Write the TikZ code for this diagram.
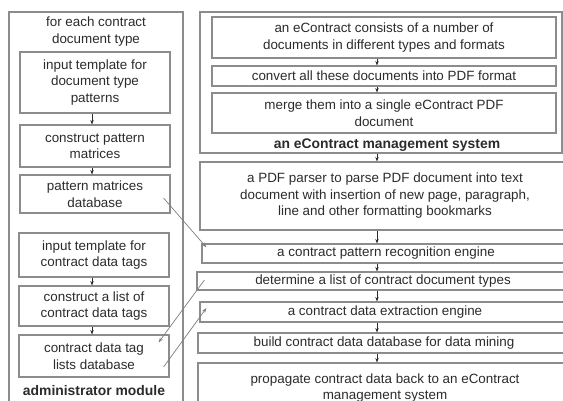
\documentclass[tikz,border=0pt]{standalone}
\usepackage{fontspec}
\setmainfont{Liberation Sans}
\usetikzlibrary{arrows.meta,calc}
\definecolor{txt}{HTML}{2B2B2B}
\definecolor{edge}{HTML}{8C8C8C}
\begin{document}
\begin{tikzpicture}[x=1pt,y=-1pt,
  box/.style={draw=edge,line width=1.1pt,inner sep=0pt,text=txt,align=center,
    font=\fontsize{13.4}{16.5}\selectfont},
  lbl/.style={text=txt,align=center,font=\fontsize{13.4}{17}\selectfont},
  blbl/.style={text=txt,align=center,font=\fontsize{13.9}{17}\selectfont\bfseries},
  arr/.style={draw=txt,line width=0.6pt,-{Stealth[length=4.5pt,width=3.4pt]}},
  darr/.style={draw=edge!90!black,line width=0.7pt,-{Stealth[length=5pt,width=3.4pt]}}]
\useasboundingbox (0,0) rectangle (563,401);
\clip (0,0) rectangle (563,401);
% left column
\node[box,minimum width=174,minimum height=390] (adm) at (96,207) {};
\node[lbl] (t1) at (96,32) {for each contract\\document type};
\node[box,minimum width=150,minimum height=61] (L1) at (95,82.5) {input template for\\document type\\patterns};
\node[box,minimum width=150,minimum height=42] (L2) at (95,146) {construct pattern\\matrices};
\node[box,minimum width=150,minimum height=38] (L3) at (95,194) {pattern matrices\\database};
\node[box,minimum width=150,minimum height=44] (L4) at (94,255) {input template for\\contract data tags};
\node[box,minimum width=150,minimum height=40] (L5) at (94,306) {construct a list of\\contract data tags};
\node[box,minimum width=150,minimum height=42] (L6) at (94,356) {contract data tag\\lists database};
\node[blbl] (t2) at (94,391) {administrator module};
% right column
\node[box,minimum width=362,minimum height=141] (sys) at (381,82.5) {};
\node[box,minimum width=344,minimum height=41] (R1) at (384,37.5) {an eContract consists of a number of\\documents in different types and formats};
\node[box,minimum width=344,minimum height=20] (R2) at (384,76) {convert all these documents into PDF format};
\node[box,minimum width=344,minimum height=40] (R3) at (384,113) {merge them into a single eContract PDF\\document};
\node[blbl] (t3) at (387,145) {an eContract management system};
\node[box,minimum width=370,minimum height=68] (R4) at (385,196) {a PDF parser to parse PDF document into text\\document with insertion of new page, paragraph,\\line and other formatting bookmarks};
\node[box,minimum width=368,minimum height=19] (R5) at (386,253.5) {a contract pattern recognition engine};
\node[box,minimum width=372,minimum height=18] (R6) at (383,281) {determine a list of contract document types};
\node[box,minimum width=370,minimum height=20] (R7) at (385,312) {a contract data extraction engine};
\node[box,minimum width=372,minimum height=20] (R8) at (384,343) {build contract data database for data mining};
\node[box,minimum width=374,minimum height=50] (R9) at (385,388) {propagate contract data back to an eContract\\management system};
% vertical arrows
\coordinate (lx) at (92,0);
\coordinate (rx) at (377,0);
\draw[arr] (L1.south -| lx) -- (L2.north -| lx);
\draw[arr] (L2.south -| lx) -- (L3.north -| lx);
\draw[arr] (L4.south -| lx) -- (L5.north -| lx);
\draw[arr] (L5.south -| lx) -- (L6.north -| lx);
\draw[arr] (R1.south -| rx) -- (R2.north -| rx);
\draw[arr] (R2.south -| rx) -- (R3.north -| rx);
\draw[arr] (sys.south -| rx) -- (R4.north -| rx);
\draw[arr] (R4.south -| rx) -- (R5.north -| rx);
\draw[arr] (R5.south -| rx) -- (R6.north -| rx);
\draw[arr] (R6.south -| rx) -- (R7.north -| rx);
\draw[arr] (R7.south -| rx) -- (R8.north -| rx);
\draw[arr] (R8.south -| rx) -- (R9.north -| rx);
% diagonal arrows
\draw[darr] ($(L3.east)+(-7,4)$) -- ($(R5.north west)+(5,4)$);
\draw[darr] ($(R6.west)+(8,-1)$) -- ($(L6.north east)+(-11,8)$);
\draw[darr] ($(L6.east)+(-6,11)$) -- ($(R7.west)+(7,-4)$);
\end{tikzpicture}
\end{document}
